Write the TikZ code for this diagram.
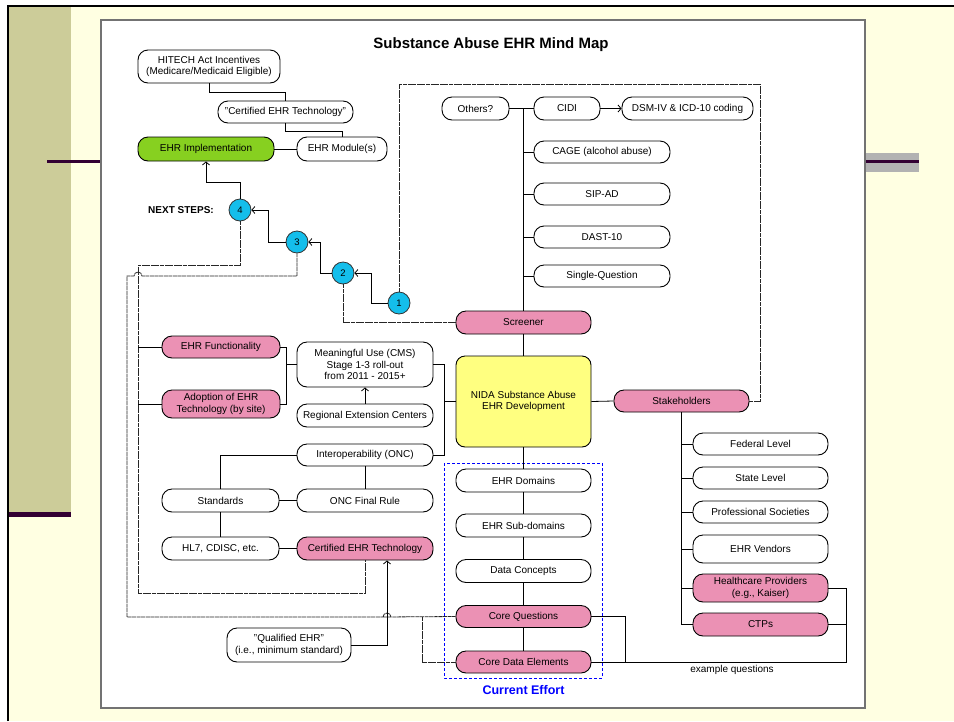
\documentclass[tikz,border=0pt]{standalone}
\usepackage{fontspec}
\setmainfont{Liberation Sans}
\usetikzlibrary{arrows.meta}

\definecolor{mmpink}{RGB}{235,145,180}
\definecolor{mmyellow}{RGB}{255,255,128}
\definecolor{mmgreen}{RGB}{135,208,32}
\definecolor{stepcyan}{RGB}{20,190,235}
\definecolor{slidebg}{RGB}{255,255,226}
\definecolor{slideolive}{RGB}{204,204,153}
\definecolor{slideplum}{RGB}{51,0,51}

\tikzset{
  box/.style={draw, line width=0.9pt, rounded corners=10pt, inner sep=1pt, align=center,
    font=\fontsize{10}{11.5}\selectfont, minimum height=23pt},
  pinkbox/.style={box, fill=mmpink},
  stepdot/.style={circle, draw=black!80, line width=0.8pt, fill=stepcyan, minimum size=22pt,
    inner sep=0pt, font=\fontsize{9.5}{10}\selectfont},
  link/.style={line width=0.8pt},
  loopline/.style={line width=0.8pt, black!85, dash pattern=on 4pt off 0.6pt},
}

\begin{document}
\begin{tikzpicture}[x=1pt, y=-1pt, >={Straight Barb[length=3pt,width=7pt]}]
    \useasboundingbox (0,0) rectangle (954,721);
    % slide background
    \fill[white] (0,0) rectangle (954,721);
    \fill[slidebg] (8,6) rectangle (954,721);
    \fill[slideolive] (9,7) rectangle (71,514);
    \fill[slideplum] (9,512) rectangle (71,517);
    \fill[slideplum] (47,160) rectangle (101,163);
    \fill[black!30] (866,153) rectangle (919,172);
    \fill[slideplum] (866,160) rectangle (919,163);
    \draw[line width=2pt] (8,721) -- (8,6) -- (954,6);
    \draw[fill=white, draw=black!55, line width=1.2pt] (101,20) rectangle (865,708);

    \node[font=\bfseries\fontsize{15}{17}\selectfont] (title) at (491,45) {Substance Abuse EHR Mind Map};

    % top left: incentives and implementation
    \node[box, minimum width=142pt, minimum height=33pt] (hitech) at (209,66.5) {HITECH Act Incentives\\(Medicare/Medicaid Eligible)};
    \node[box, minimum width=135pt, minimum height=22pt] (certq) at (285.5,112) {"Certified EHR Technology"};
    \node[box, fill=mmgreen, minimum width=136pt, minimum height=24pt] (impl) at (206,149) {EHR Implementation};
    \node[box, minimum width=90pt, minimum height=24pt] (module) at (342,149) {EHR Module(s)};

    \node[font=\bfseries\fontsize{10}{12}\selectfont] (nextsteps) at (181,210) {NEXT STEPS:};
    \node[stepdot] (s4) at (240,210) {4};
    \node[stepdot] (s3) at (297,242) {3};
    \node[stepdot] (s2) at (343,273) {2};
    \node[stepdot] (s1) at (399,303) {1};

    % screeners
    \node[pinkbox, minimum width=135pt] (screener) at (523.5,322.5) {Screener};
    \node[box, minimum width=67pt] (others) at (475.5,108.5) {Others?};
    \node[box, minimum width=66pt] (cidi) at (567,108.5) {CIDI};
    \node[box, minimum width=131pt] (dsm) at (687.5,108.5) {DSM-IV \& ICD-10 coding};
    \node[box, minimum width=136pt, minimum height=22pt] (cage) at (602,152) {CAGE (alcohol abuse)};
    \node[box, minimum width=136pt, minimum height=22pt] (sipad) at (602,194) {SIP-AD};
    \node[box, minimum width=136pt, minimum height=22pt] (dast) at (602,237) {DAST-10};
    \node[box, minimum width=136pt, minimum height=22pt] (single) at (602,276) {Single-Question};

    % centre and stakeholders
    \node[box, fill=mmyellow, rounded corners=9pt, minimum width=135pt, minimum height=91pt] (nida) at (523.5,401.5) {NIDA Substance Abuse\\EHR Development};
    \node[pinkbox, minimum width=135pt, minimum height=22pt] (stake) at (681.5,401) {Stakeholders};
    \node[box, minimum width=135pt, minimum height=22pt] (federal) at (760.5,444) {Federal Level};
    \node[box, minimum width=135pt, minimum height=22pt] (state) at (760.5,478) {State Level};
    \node[box, minimum width=135pt, minimum height=22pt] (prof) at (760.5,512) {Professional Societies};
    \node[box, minimum width=135pt, minimum height=28pt] (vendors) at (760.5,549) {EHR Vendors};
    \node[pinkbox, minimum width=135pt, minimum height=28pt] (hcp) at (760.5,588) {Healthcare Providers\\(e.g., Kaiser)};
    \node[pinkbox, minimum width=135pt] (ctps) at (760.5,624.5) {CTPs};

    % current effort
    \node[box, minimum width=135pt] (domains) at (523.5,480.5) {EHR Domains};
    \node[box, minimum width=135pt] (subdomains) at (523.5,525.5) {EHR Sub-domains};
    \node[box, minimum width=135pt] (concepts) at (523.5,571) {Data Concepts};
    \node[pinkbox, minimum width=135pt, minimum height=22pt] (coreq) at (523.5,616.5) {Core Questions};
    \node[pinkbox, minimum width=135pt, minimum height=22pt] (coredata) at (523.5,662) {Core Data Elements};
    \draw[blue, densely dashed, line width=0.7pt] (444,463) rectangle (602,678);
    \node[font=\bfseries\fontsize{12.5}{14}\selectfont, text=blue] (effort) at (523.5,690) {Current Effort};

    % left side: policy
    \node[pinkbox, minimum width=118pt, minimum height=22pt] (func) at (221,347) {EHR Functionality};
    \node[pinkbox, minimum width=118pt, minimum height=28pt] (adopt) at (221,404) {Adoption of EHR\\Technology (by site)};
    \node[box, minimum width=136pt, minimum height=45pt] (mu) at (365,364.5) {Meaningful Use (CMS)\\Stage 1-3 roll-out\\from 2011 - 2015+};
    \node[box, minimum width=136pt] (rec) at (365,415.5) {Regional Extension Centers};
    \node[box, minimum width=136pt, minimum height=22pt] (interop) at (365,455) {Interoperability (ONC)};
    \node[box, minimum width=136pt] (onc) at (365,500.5) {ONC Final Rule};
    \node[pinkbox, minimum width=136pt] (certtech) at (365,548.5) {Certified EHR Technology};
    \node[box, minimum width=117pt] (standards) at (220.5,500.5) {Standards};
    \node[box, minimum width=117pt] (hl7) at (220.5,548.5) {HL7, CDISC, etc.};
    \node[box, minimum width=124pt, minimum height=34pt] (qual) at (289,645) {"Qualified EHR"\\(i.e., minimum standard)};
    \node[font=\fontsize{10}{12}\selectfont] (example) at (732,670) {example questions};

    % connectors
    \draw[link] (hitech.south) -- ++(0,9) -| (certq.north);
    \draw[link] (certq.south) -- ++(0,8) -| (module.north);
    \draw[link] (impl.east) -- (module.west);
    \draw[link,->] (s4.north) -- (240,182) -| (impl.south);
    \draw[link,->] (s3.west) -- (268,242) |- (s4.east);
    \draw[link,->] (s2.west) -- (320,273) |- (s3.east);
    \draw[link,->] (s1.west) -- (371,303) |- (s2.east);

    \draw[loopline] (s1.north) |- (760,84) |- (stake.east);
    \draw[loopline] (s2.south) |- (screener.west);
    \draw[loopline] (s3.south) -- (297,276) -- (142,276) arc[start angle=0, end angle=180, radius=4pt]
        -- (127,276) -- (127,617) -- (391,617) arc[start angle=0, end angle=180, radius=4pt] -- (coreq.west);
    \draw[loopline] (422,617) |- (coredata.west);
    \draw[loopline] (s4.south) |- (138,265) -- (138,593) -| (certtech.south);

    \draw[link] (nida.north) -- (screener.south);
    \draw[link] (screener.north) -- (others.east -| screener.north);
    \draw[link] (others.east) -- (cidi.west);
    \draw[link,->] (cidi.east) -- (dsm.west);
    \foreach \n in {cage,sipad,dast,single}
        \draw[link] (\n.west) -- (\n.west -| screener.north);

    \draw[link] (nida.east) -- (stake.west);
    \draw[link] (stake.south) -- (ctps.west -| stake.south);
    \foreach \n in {federal,state,prof,vendors,hcp,ctps}
        \draw[link] (\n.west) -- (\n.west -| stake.south);
    \draw[link] (hcp.east) -- (846,588) |- (coredata.east);
    \draw[link] (ctps.east) -- (846,624.5);
    \draw[link] (coreq.east) -| (625,662);

    \draw[link] (nida.south) -- (domains.north);
    \draw[link] (domains.south) -- (subdomains.north);
    \draw[link] (subdomains.south) -- (concepts.north);
    \draw[link] (concepts.south) -- (coreq.north);
    \draw[link] (coreq.south) -- (coredata.north);

    \draw[link] (func.west) -- (138,347);
    \draw[link] (adopt.west) -- (138,404);
    \draw[link] (func.east) -- (286,347) -- (286,404) -- (adopt.east);
    \draw[link] (286,364.5) -- (mu.west);
    \draw[link,->] (rec.north) -- (mu.south);
    \draw[link] (mu.east) -- (444,364.5) -- (444,455) -- (interop.east);
    \draw[link] (444,401.5) -- (nida.west);
    \draw[link] (interop.west) -| (standards.north);
    \draw[link] (interop.south) -- (onc.north);
    \draw[link] (standards.east) -- (onc.west);
    \draw[link] (standards.south) -- (hl7.north);
    \draw[link] (hl7.east) -- (certtech.west);
    \draw[link,->] (qual.east) -| ([xshift=22pt]certtech.south);
\end{tikzpicture}
\end{document}
